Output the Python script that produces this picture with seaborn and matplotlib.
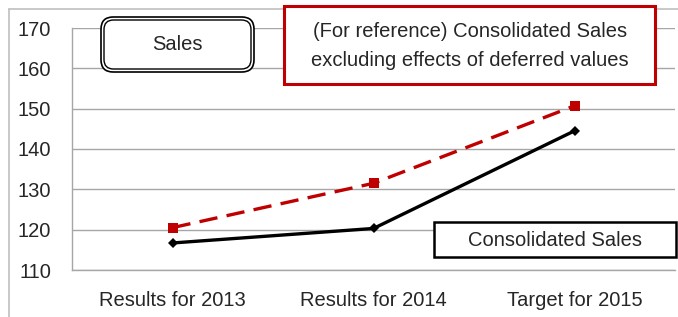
import matplotlib
matplotlib.use("Agg")
import matplotlib.pyplot as plt
import seaborn as sns
import pandas as pd
from matplotlib.patches import FancyBboxPatch, Rectangle
from matplotlib.lines import Line2D

# === data ===
periods = ["Results for 2013", "Results for 2014", "Target for 2015"]
consolidated = [116.7, 120.3, 144.5]
excl_deferred = [120.5, 131.5, 150.7]
y_ticks = [110, 120, 130, 140, 150, 160, 170]

df = pd.DataFrame({
    "pos": list(range(len(periods))) * 2,
    "value": consolidated + excl_deferred,
    "series": ["Consolidated Sales"] * 3 + ["Excluding deferred"] * 3,
})

sns.set_style("white")
plt.rcParams["font.family"] = ["Liberation Sans", "DejaVu Sans"]
FS = 14.5

W, H = 678, 317
fig = plt.figure(figsize=(W / 100, H / 100), dpi=100)
ax = fig.add_axes([72 / W, 1 - 270 / H, (675 - 72) / W, (270 - 28) / H])

# outer chart frame (only top/left edges visible)
fig.add_artist(Line2D([9 / W, 9 / W], [0, 1 - 9 / H], transform=fig.transFigure,
                      color="#bfbfbf", lw=1.2))
fig.add_artist(Line2D([9 / W, 1], [1 - 9 / H, 1 - 9 / H], transform=fig.transFigure,
                      color="#bfbfbf", lw=1.2))

for yv in y_ticks:
    ax.axhline(yv, color="#a6a6a6", lw=1.0, zorder=0)

sub_c = df[df.series == "Consolidated Sales"]
sub_e = df[df.series == "Excluding deferred"]
sns.lineplot(data=sub_e, x="pos", y="value", ax=ax, color="#c00000", lw=2.4,
             marker="s", markersize=6.5, markeredgewidth=0,
             linestyle=(0, (5.5, 2.8)), zorder=3)
sns.lineplot(data=sub_c, x="pos", y="value", ax=ax, color="black", lw=2.4,
             marker="D", markersize=5.5, markeredgewidth=0, zorder=4)

ax.set_xlim(-0.5, 2.5)
ax.set_ylim(110, 170)
ax.set_yticks(y_ticks)
ax.set_yticklabels([str(v) for v in y_ticks], fontsize=FS)
ax.set_xticks([-0.5, 0.5, 1.5, 2.5])
ax.set_xticklabels([])
ax.set_xticks(range(len(periods)), minor=True)
ax.set_xticklabels(periods, minor=True, fontsize=FS)
ax.tick_params(axis="x", which="major", length=6, color="#a6a6a6", direction="out")
ax.tick_params(axis="x", which="minor", length=0, pad=15)
ax.tick_params(axis="y", length=6, color="#a6a6a6", direction="out", pad=9)
ax.set_xlabel("")
ax.set_ylabel("")
if ax.legend_:
    ax.legend_.remove()
for s in ["top", "right"]:
    ax.spines[s].set_visible(False)
for s in ["left", "bottom"]:
    ax.spines[s].set_color("#a6a6a6")
    ax.spines[s].set_linewidth(1.0)


def px_box(x0, y0, x1, y1):
    return x0 / W, 1 - y1 / H, (x1 - x0) / W, (y1 - y0) / H


# "Sales" double rounded box
x, y, w, h = px_box(101, 17, 254, 72)
fig.add_artist(FancyBboxPatch((x, y), w, h, boxstyle="round,pad=0,rounding_size=0.018",
                              transform=fig.transFigure, fc="white", ec="black", lw=1.2,
                              mutation_aspect=W / H, zorder=5))
x, y, w, h = px_box(104, 20, 251, 69)
fig.add_artist(FancyBboxPatch((x, y), w, h, boxstyle="round,pad=0,rounding_size=0.014",
                              transform=fig.transFigure, fc="white", ec="black", lw=1.0,
                              mutation_aspect=W / H, zorder=5))
fig.text(177 / W, 1 - 45 / H, "Sales", ha="center", va="center", fontsize=FS, zorder=6)

# red reference box
x, y, w, h = px_box(284, 6, 655, 84)
fig.add_artist(Rectangle((x, y), w, h, transform=fig.transFigure, fc="white",
                         ec="#c00000", lw=2.2, zorder=5))
fig.text(470 / W, 1 - 46 / H,
         "(For reference) Consolidated Sales\nexcluding effects of deferred values",
         ha="center", va="center", fontsize=FS, linespacing=1.65, zorder=6)

# consolidated sales box
x, y, w, h = px_box(434, 222, 676, 257)
fig.add_artist(Rectangle((x, y), w, h, transform=fig.transFigure, fc="white",
                         ec="black", lw=1.8, zorder=5))
fig.text(555 / W, 1 - 240 / H, "Consolidated Sales", ha="center", va="center",
         fontsize=FS, zorder=6)

fig.savefig("out.png", dpi=100)
